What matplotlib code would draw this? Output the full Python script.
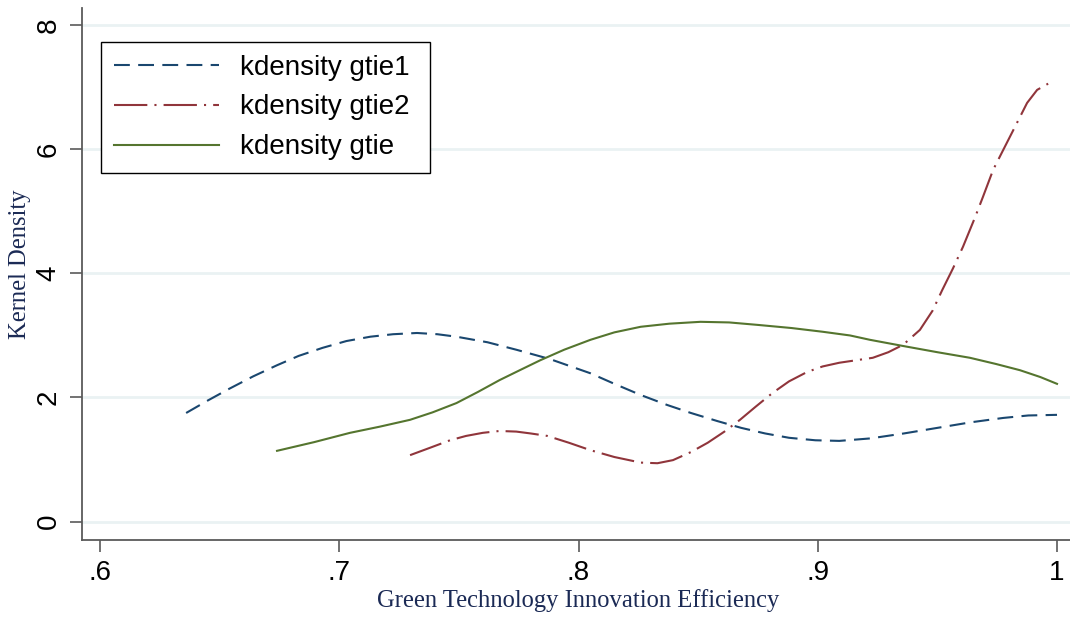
import matplotlib
matplotlib.use("Agg")
import matplotlib.pyplot as plt

# ---- data ----
x_gtie1 = [0.636, 0.645, 0.654, 0.664, 0.674, 0.683, 0.693, 0.703, 0.713, 0.7225,
           0.7325, 0.741, 0.749, 0.762, 0.774, 0.788, 0.805, 0.815, 0.826, 0.837,
           0.847, 0.858, 0.868, 0.878, 0.888, 0.899, 0.909, 0.922, 0.936, 0.950,
           0.964, 0.9775, 0.988, 1.000]
y_gtie1 = [1.75, 1.95, 2.14, 2.34, 2.52, 2.67, 2.80, 2.91, 2.98, 3.02,
           3.04, 3.02, 2.98, 2.89, 2.77, 2.62, 2.39, 2.22, 2.04, 1.88,
           1.75, 1.62, 1.51, 1.42, 1.35, 1.31, 1.30, 1.34, 1.42, 1.51,
           1.60, 1.67, 1.71, 1.72]

x_gtie2 = [0.7296, 0.738, 0.7463, 0.753, 0.760, 0.767, 0.774, 0.780, 0.787, 0.796,
           0.805, 0.815, 0.826, 0.833, 0.8395, 0.847, 0.854, 0.861, 0.8675, 0.874,
           0.881, 0.888, 0.8955, 0.902, 0.909, 0.916, 0.923, 0.9295, 0.9357, 0.9427,
           0.948, 0.952, 0.9565, 0.9607, 0.9658, 0.969, 0.9733, 0.9775, 0.9833, 0.9875,
           0.9917, 0.9963]
y_gtie2 = [1.07, 1.19, 1.31, 1.38, 1.43, 1.46, 1.45, 1.42, 1.38, 1.27,
           1.15, 1.04, 0.95, 0.94, 0.99, 1.12, 1.27, 1.45, 1.64, 1.85,
           2.07, 2.26, 2.41, 2.50, 2.56, 2.60, 2.64, 2.73, 2.85, 3.09,
           3.40, 3.73, 4.08, 4.43, 4.91, 5.23, 5.67, 5.99, 6.43, 6.75,
           6.96, 7.06]

x_gtie = [0.674, 0.6895, 0.7045, 0.717, 0.7296, 0.739, 0.749, 0.758, 0.767, 0.776,
          0.784, 0.794, 0.805, 0.815, 0.826, 0.838, 0.851, 0.863, 0.875, 0.889,
          0.902, 0.9135, 0.9218, 0.9357, 0.950, 0.9636, 0.9745, 0.9845, 0.993, 1.000]
y_gtie = [1.14, 1.28, 1.43, 1.53, 1.64, 1.76, 1.91, 2.09, 2.28, 2.45,
          2.60, 2.77, 2.93, 3.05, 3.14, 3.19, 3.22, 3.21, 3.17, 3.12,
          3.06, 3.00, 2.93, 2.83, 2.73, 2.64, 2.54, 2.44, 2.33, 2.22]

labels = ["kdensity gtie1", "kdensity gtie2", "kdensity gtie"]
x_ticks = [0.6, 0.7, 0.8, 0.9, 1.0]
x_ticklabels = [".6", ".7", ".8", ".9", "1"]
y_ticks = [0, 2, 4, 6, 8]
y_ticklabels = ["0", "2", "4", "6", "8"]

# ---- style ----
c_navy = "#1a476f"
c_maroon = "#90353b"
c_green = "#55752f"
grid_c = "#eaf2f3"
spine_c = "#5a5a5a"
label_c = "#1b2a55"
lw = 1.5

fig = plt.figure(figsize=(10.70, 6.17), dpi=100)
ax = fig.add_axes([82/1070, 1 - 540/617, 1 - 82/1070, (540 - 8)/617])

ax.set_xlim(0.59248, 1.00543)
ax.set_ylim(-0.298, 8.28)

for yt in y_ticks:
    ax.axhline(yt, color=grid_c, lw=2.0, zorder=0)

l1, = ax.plot(x_gtie1, y_gtie1, color=c_navy, lw=lw, dashes=(7.6, 4.0))
l2, = ax.plot(x_gtie2, y_gtie2, color=c_maroon, lw=lw, dashes=(16, 3.4, 1, 3.4))
l3, = ax.plot(x_gtie, y_gtie, color=c_green, lw=lw)

for s in ["top", "right"]:
    ax.spines[s].set_visible(False)
for s in ["left", "bottom"]:
    ax.spines[s].set_color(spine_c)
    ax.spines[s].set_linewidth(1.3)

ax.set_xticks(x_ticks)
ax.set_xticklabels(x_ticklabels, fontsize=20, family="Liberation Sans")
ax.set_yticks(y_ticks)
ax.set_yticklabels(y_ticklabels, fontsize=20, family="Liberation Sans",
                   rotation=90, va="center")
ax.tick_params(axis="both", length=8.5, width=1.2, color=spine_c, pad=6)

fig.text(578/1070, 1 - 601/617, "Green Technology Innovation Efficiency",
         ha="center", va="center", fontsize=17.7, family="Liberation Serif",
         color=label_c)
fig.text(20/1070, 1 - 264/617, "Kernel Density", ha="center", va="center",
         rotation=90, fontsize=17.7, family="Liberation Serif", color=label_c)

leg = ax.legend([l1, l2, l3], labels, loc="upper left",
                bbox_to_anchor=(101/1070, 1 - 173/617, 329/1070, 131/617),
                bbox_transform=fig.transFigure, borderaxespad=0, mode="expand",
                prop={"family": "Liberation Sans", "size": 20},
                handlelength=3.8, handletextpad=0.75, labelspacing=0.5,
                borderpad=0.45, fancybox=False, framealpha=1)
leg.get_frame().set_edgecolor("black")
leg.get_frame().set_linewidth(1.0)

fig.savefig("out.png", dpi=100)
